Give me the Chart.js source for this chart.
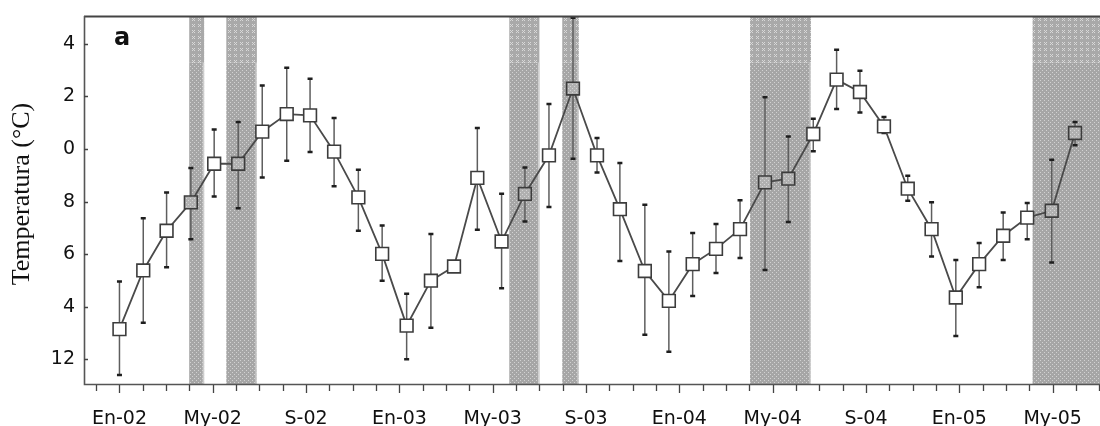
<!DOCTYPE html>
<html><head><meta charset="utf-8">
<script src="https://cdn.jsdelivr.net/npm/chart.js@4/dist/chart.umd.min.js"></script>
<style>html,body{margin:0;padding:0;background:#fff;}#wrap{width:1100px;height:426px;position:relative;}</style>
</head><body><div id="wrap"><canvas id="c" width="1100" height="426"></canvas></div>
<script>
// x in months since Jan-02
const sampleMonths = [0,1.02,2.02,3.06,4.06,5.09,6.12,7.17,8.17,9.2,10.24,11.26,12.31,13.35,14.34,15.34,16.38,17.38,18.41,19.44,20.47,21.45,22.52,23.55,24.57,25.57,26.6,27.67,28.67,29.74,30.74,31.74,32.77,33.79,34.81,35.85,36.85,37.88,38.91,39.96,40.96];
const meanTemp = [13.15,15.38,16.89,17.97,19.44,19.44,20.66,21.33,21.28,19.90,18.16,16.01,13.28,14.99,15.53,18.90,16.48,18.29,19.76,22.30,19.76,17.71,15.36,14.22,15.62,16.20,16.95,18.73,18.87,20.57,22.64,22.17,20.86,18.49,16.95,14.35,15.62,16.70,17.39,17.65,20.61];
const errHigh = [14.96,17.37,18.35,19.28,20.74,21.03,22.42,23.09,22.67,21.18,19.21,17.09,14.49,16.77,null,20.80,18.30,19.30,21.71,24.99,20.42,19.47,17.88,16.10,16.80,17.15,18.05,21.97,20.48,21.15,23.78,22.98,21.22,18.98,17.97,15.78,16.42,17.58,17.95,19.59,21.03];
const errLow = [11.40,13.39,15.50,16.57,18.19,17.75,18.92,19.55,19.89,18.58,16.89,14.99,12.00,13.20,null,16.93,14.70,17.24,17.79,19.63,19.11,15.74,12.93,12.29,14.41,15.28,15.85,15.40,17.22,19.91,21.52,21.39,20.61,18.03,15.91,12.89,14.74,15.78,16.57,15.68,20.14];
const shadedPoints = [3,5,17,19,27,28,39,40];
const bandStarts = [2.99,4.58,16.71,18.98,27.03,39.14];
const bandEnds = [3.63,5.89,18.0,19.69,29.64,42.6];
const bandUpperSplit = 23.28;
const xTickMonths = [0,4,8,12,16,20,24,28,32,36,40];
const xTickLabels = ['En-02','My-02','S-02','En-03','My-03','S-03','En-04','My-04','S-04','En-05','My-05'];
const yTickValues = [12,14,16,18,20,22,24];
const yTickLabels = ['12','4','6','8','0','2','4'];
const panelLabel = 'a';
const yTitle = 'Temperatura (°C)';

function makePattern(base, light, pts, size){
  const c = document.createElement('canvas'); c.width = size; c.height = size;
  const g = c.getContext('2d');
  g.fillStyle = base; g.fillRect(0,0,size,size);
  g.fillStyle = light;
  pts.forEach(p => g.fillRect(p[0],p[1],1,1));
  return document.getElementById('c').getContext('2d').createPattern(c,'repeat');
}
const lowerPat = makePattern('#a6a6a6','#d2d2d2',[[0,0],[2,2]],4);
const upperPat = makePattern('#a9a9a9','#d8d8d8',[[0,0],[2,0],[0,2],[2,2],[1,1]],6);
const pointPat = makePattern('#b0b0b0','#d4d4d4',[[0,0],[2,2]],4);

const bgColors = meanTemp.map((v,i) => shadedPoints.includes(i) ? pointPat : '#ffffff');

const decor = {
  id:'decor',
  beforeDatasetsDraw(chart){
    const ctx = chart.ctx, a = chart.chartArea, xs = chart.scales.x, ys = chart.scales.y;
    ctx.save();
    ctx.beginPath(); ctx.rect(a.left, a.top, a.right-a.left, a.bottom-a.top); ctx.clip();
    const ySplit = ys.getPixelForValue(bandUpperSplit);
    bandStarts.forEach((s,i) => {
      const x0 = xs.getPixelForValue(s), x1 = xs.getPixelForValue(bandEnds[i]);
      ctx.fillStyle = lowerPat; ctx.fillRect(x0, ySplit, x1-x0, a.bottom-ySplit);
      ctx.fillStyle = upperPat; ctx.fillRect(x0, a.top, x1-x0, ySplit-a.top);
      ctx.fillStyle = 'rgba(215,215,215,0.8)'; ctx.fillRect(x1-1.5, ySplit, 1.5, a.bottom-ySplit);
    });
    // error bars
    sampleMonths.forEach((m,i) => {
      if (errHigh[i] == null) return;
      const x = xs.getPixelForValue(m), yh = ys.getPixelForValue(errHigh[i]), yl = ys.getPixelForValue(errLow[i]);
      ctx.strokeStyle = '#5e5e5e'; ctx.lineWidth = 1.5;
      ctx.beginPath(); ctx.moveTo(x, yh); ctx.lineTo(x, yl); ctx.stroke();
      ctx.strokeStyle = '#1e1e1e'; ctx.lineWidth = 2.5;
      ctx.beginPath(); ctx.moveTo(x-2.5, yh); ctx.lineTo(x+2.5, yh); ctx.moveTo(x-2.5, yl); ctx.lineTo(x+2.5, yl); ctx.stroke();
    });
    ctx.restore();
  },
  afterDraw(chart){
    const ctx = chart.ctx, a = chart.chartArea, xs = chart.scales.x, ys = chart.scales.y;
    ctx.save();
    ctx.strokeStyle = '#444'; ctx.lineWidth = 2;
    ctx.beginPath(); ctx.moveTo(a.left, a.top+0.5); ctx.lineTo(a.right, a.top+0.5); ctx.stroke();
    ctx.lineWidth = 1.6; ctx.strokeStyle = '#555';
    ctx.beginPath(); ctx.moveTo(a.left+0.5, a.top); ctx.lineTo(a.left+0.5, a.bottom+0.5);
    ctx.lineTo(a.right, a.bottom+0.5); ctx.stroke();
    // x ticks (monthly)
    ctx.lineWidth = 1.3; ctx.strokeStyle = '#444';
    ctx.beginPath();
    for (let m = Math.ceil(xs.min); m <= xs.max; m++) {
      const x = Math.round(xs.getPixelForValue(m)) + 0.5;
      const len = xTickMonths.includes(m) ? 8 : 6;
      ctx.moveTo(x, a.bottom+1); ctx.lineTo(x, a.bottom+1+len);
    }
    // y ticks inward
    yTickValues.forEach(v => {
      const y = Math.round(ys.getPixelForValue(v)) + 0.5;
      ctx.moveTo(a.left, y); ctx.lineTo(a.left+4, y);
    });
    ctx.stroke();
    // panel label
    ctx.fillStyle = '#111'; ctx.font = 'bold 24px "DejaVu Sans"';
    ctx.textAlign = 'center'; ctx.textBaseline = 'middle';
    ctx.fillText(panelLabel, 122, 39);
    // y title
    ctx.translate(22, 194); ctx.rotate(-Math.PI/2);
    ctx.font = '26px "Liberation Serif"'; ctx.fillStyle = '#111';
    ctx.fillText(yTitle, 0, 0);
    ctx.restore();
  }
};

new Chart(document.getElementById('c'), {
  type:'line',
  data:{datasets:[{
    data: sampleMonths.map((m,i) => ({x:m, y:meanTemp[i]})),
    borderColor:'#4a4a4a', borderWidth:1.8, tension:0,
    pointStyle:'rect', pointRadius:9, pointBorderWidth:1.6,
    pointBorderColor:'#3c3c3c', pointBackgroundColor:bgColors
  }]},
  options:{
    responsive:false, animation:false,
    layout:{autoPadding:false, padding:{top:16,right:0,left:0,bottom:0}},
    plugins:{legend:{display:false}, tooltip:{enabled:false}},
    scales:{
      x:{type:'linear', min:-1.52, max:42.03,
        afterFit(s){ s.height = 42; s.paddingLeft = 0; s.paddingRight = 0; },
        afterBuildTicks(s){ s.ticks = xTickMonths.map(v => ({value:v})); },
        ticks:{callback:(v,i) => xTickLabels[i], autoSkip:false, maxRotation:0, padding:24,
          color:'#111', font:{family:'DejaVu Sans', size:19}},
        grid:{display:false, drawTicks:false}, border:{display:false}},
      y:{min:11.06, max:25.06,
        afterFit(s){ s.width = 84; s.paddingTop = 0; s.paddingBottom = 0; },
        afterBuildTicks(s){ s.ticks = yTickValues.map(v => ({value:v})); },
        ticks:{callback:(v,i) => yTickLabels[i], padding:9, color:'#111',
          font:{family:'DejaVu Sans', size:19}},
        grid:{display:false, drawTicks:false}, border:{display:false}}
    }
  },
  plugins:[decor]
});
</script></body></html>
